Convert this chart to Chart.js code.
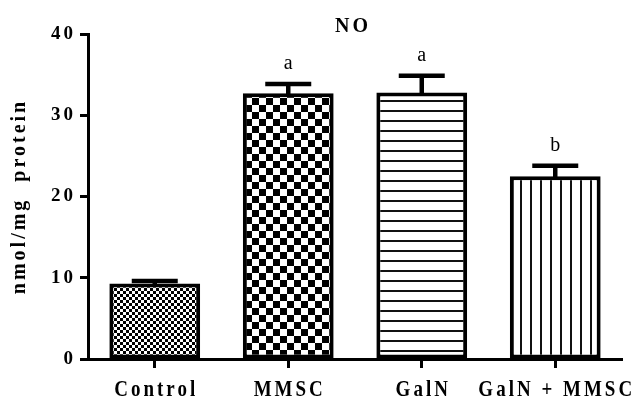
<!DOCTYPE html>
<html>
<head>
<meta charset="utf-8">
<style>
  html, body { margin: 0; padding: 0; background: #fff; }
  #wrap { width: 638px; height: 399px; }
</style>
<script src="https://cdn.jsdelivr.net/npm/chart.js@4/dist/chart.umd.min.js"></script>
</head>
<body>
<div id="wrap"><canvas id="c" width="638" height="399"></canvas></div>
<script>
// NO level per group (nmol/mg protein), mean and SEM
const groups = ['Control', 'MMSC', 'GalN', 'GalN + MMSC'];
const means = [9.3, 32.7, 32.8, 22.5];
const sems = [0.3, 1.15, 2.05, 1.3];
const sigLetters = ['', 'a', 'a', 'b'];
const yTicks = [0, 10, 20, 30, 40];

const SERIF = '"Liberation Serif", "Times New Roman", serif';

function makePattern(size, draw) {
  const c = document.createElement('canvas');
  c.width = size; c.height = size;
  const g = c.getContext('2d');
  g.fillStyle = '#fff';
  g.fillRect(0, 0, size, size);
  g.fillStyle = '#000';
  draw(g, size);
  return c.getContext('2d').createPattern(c, 'repeat');
}
function checker(cell) {
  return makePattern(cell * 2, (g) => {
    g.fillRect(0, 0, cell, cell);
    g.fillRect(cell, cell, cell, cell);
  });
}
const fills = [
  checker(3),
  checker(7),
  makePattern(10, (g, s) => { g.fillStyle = '#111'; g.fillRect(0, 0, s, 2); }),
  makePattern(10, (g, s) => { g.fillStyle = '#111'; g.fillRect(0, 0, 2, s); })
];

// upper error bars and significance letters
const errorBars = {
  id: 'errorBars',
  afterDatasetsDraw(chart) {
    const { ctx } = chart;
    const y = chart.scales.y;
    const meta = chart.getDatasetMeta(0);
    ctx.save();
    ctx.letterSpacing = '0px';
    ctx.strokeStyle = '#000';
    ctx.lineWidth = 4.5;
    ctx.lineCap = 'butt';
    meta.data.forEach((bar, i) => {
      const top = y.getPixelForValue(means[i] + sems[i]);
      const x = bar.x;
      ctx.beginPath();
      ctx.moveTo(x, bar.y + 2);
      ctx.lineTo(x, top);
      ctx.stroke();
      ctx.beginPath();
      ctx.moveTo(x - 23, top);
      ctx.lineTo(x + 23, top);
      ctx.stroke();
      if (sigLetters[i]) {
        ctx.fillStyle = '#000';
        ctx.font = '20px ' + SERIF;
        ctx.textAlign = 'center';
        ctx.textBaseline = 'alphabetic';
        ctx.fillText(sigLetters[i], x, top - 15);
      }
    });
    ctx.restore();
  }
};

// spaced, slightly tall lettering for the group names and the heading
const lettering = {
  id: 'lettering',
  beforeDraw(chart) {
    chart.ctx.letterSpacing = '3px';
  },
  afterDraw(chart) {
    const { ctx, chartArea } = chart;
    const xs = chart.scales.x;
    ctx.save();
    ctx.letterSpacing = '3px';
    ctx.fillStyle = '#000';
    ctx.textAlign = 'center';
    ctx.textBaseline = 'alphabetic';
    ctx.font = 'bold 19px ' + SERIF;
    groups.forEach((name, i) => {
      ctx.save();
      ctx.translate(xs.getPixelForTick(i) + 1.5, 396);
      ctx.scale(1, 1.18);
      ctx.fillText(name, 0, 0);
      ctx.restore();
    });
    ctx.font = 'bold 20px ' + SERIF;
    ctx.fillText('NO', (chartArea.left + chartArea.right) / 2 - 2, 32);
    ctx.restore();
  }
};

new Chart(document.getElementById('c'), {
  type: 'bar',
  data: {
    labels: groups,
    datasets: [{
      data: means,
      backgroundColor: fills,
      borderColor: '#000',
      borderWidth: 4,
      borderSkipped: false,
      barPercentage: 0.68,
      categoryPercentage: 1.0
    }]
  },
  options: {
    responsive: false,
    animation: false,
    devicePixelRatio: 1,
    layout: { padding: { left: 0, right: 16, top: 34, bottom: 0 } },
    plugins: {
      legend: { display: false },
      tooltip: { enabled: false },
      title: { display: false }
    },
    scales: {
      x: {
        offset: true,
        afterFit(scale) { scale.height = 40; },
        grid: {
          display: true,
          offset: false,
          drawOnChartArea: false,
          drawTicks: true,
          tickLength: 9,
          tickWidth: 3,
          tickColor: '#000'
        },
        border: { display: true, width: 3, color: '#000' },
        ticks: { display: false, autoSkip: false }
      },
      y: {
        min: 0,
        max: 40,
        afterFit(scale) { scale.width = 88; },
        afterBuildTicks(scale) { scale.ticks = yTicks.map(v => ({ value: v })); },
        grid: {
          display: true,
          drawOnChartArea: false,
          drawTicks: true,
          tickLength: 8,
          tickWidth: 3,
          tickColor: '#000'
        },
        border: { display: true, width: 3, color: '#000' },
        ticks: {
          color: '#000',
          padding: 4,
          font: { family: SERIF, size: 19, weight: 'bold' }
        },
        title: {
          display: true,
          text: 'nmol/mg  protein',
          color: '#000',
          padding: { top: 8, bottom: 0 },
          font: { family: SERIF, size: 20, weight: 'bold' }
        }
      }
    }
  },
  plugins: [errorBars, lettering]
});
</script>
</body>
</html>
